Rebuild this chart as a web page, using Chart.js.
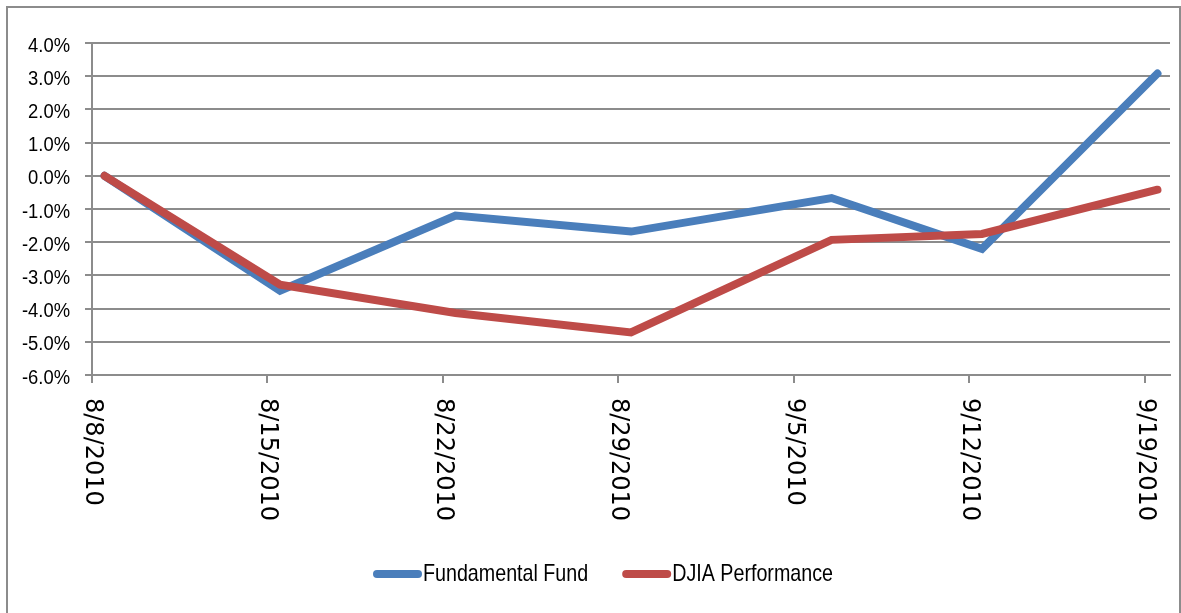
<!DOCTYPE html>
<html>
<head>
<meta charset="utf-8">
<script src="https://cdn.jsdelivr.net/npm/chart.js@4.4.1/dist/chart.umd.min.js"></script>
<style>
  html,body{margin:0;padding:0;background:#fff}
  #wrap{width:1181px;height:613px;position:relative}
</style>
</head>
<body>
<div id="wrap"><canvas id="c" width="1181" height="613"></canvas></div>
<script>
// data (percent)
const seriesNames = ['Fundamental Fund', 'DJIA Performance'];
const seriesColors = ['#4a7ebb', '#be4b48'];
const pointDates = ['2010-08-08','2010-08-15','2010-08-22','2010-08-29','2010-09-06','2010-09-12','2010-09-19'];
const fundValues = [0, -3.46, -1.2, -1.68, -0.67, -2.2, 3.08];
const djiaValues = [0, -3.28, -4.13, -4.72, -1.93, -1.75, -0.42];
const tickLabels = ['8/8/2010','8/15/2010','8/22/2010','8/29/2010','9/5/2010','9/12/2010','9/19/2010'];
const tickDays = [0, 7, 14, 21, 28, 35, 42];

const start = Date.UTC(2010,7,8);
// excel date axis puts each point in the middle of its day
const dayOf = s => (Date.parse(s+'T00:00:00Z') - start)/864e5 + 0.5;
const pts = vals => vals.map((v,i)=>({x: dayOf(pointDates[i]), y: v}));

const GRID = '#8c8c8c';
const yFont = '20px "Liberation Sans", Arial, sans-serif';
const xFont = '24px "DejaVu Sans", sans-serif';
const legFont = '24px "Liberation Sans", Arial, sans-serif';

// draw text squeezed horizontally (no narrow font installed)
function narrowText(ctx, txt, x, y, sx){
  ctx.save(); ctx.translate(x, y); ctx.scale(sx, 1); ctx.fillText(txt, 0, 0); ctx.restore();
  return ctx.measureText(txt).width * sx;
}

const frame = {
  id:'frame',
  beforeDraw(chart){
    const ctx = chart.ctx;
    ctx.save();
    ctx.fillStyle = '#fff'; ctx.fillRect(0,0,chart.width,chart.height);
    ctx.strokeStyle = GRID; ctx.lineWidth = 2;
    ctx.strokeRect(7,7,1173,700);
    ctx.restore();
  },
  afterDraw(chart){
    const ctx = chart.ctx, xs = chart.scales.x, ys = chart.scales.y, bottom = chart.chartArea.bottom;
    ctx.save();
    ctx.fillStyle = '#000';
    // y labels, a touch below their gridline like the original
    ctx.font = yFont; ctx.textAlign = 'right'; ctx.textBaseline = 'middle';
    ys.ticks.forEach(t=>{
      ctx.save();
      ctx.translate(70, ys.getPixelForValue(t.value) + 3);
      ctx.scale(0.92, 1);
      ctx.fillText(t.value.toFixed(1) + '%', 0, 0);
      ctx.restore();
    });
    // rotated date labels, reading top to bottom
    ctx.font = xFont; ctx.textAlign = 'left'; ctx.textBaseline = 'middle';
    tickDays.forEach((d,i)=>{
      ctx.save();
      ctx.translate(xs.getPixelForValue(d), bottom + 23);
      ctx.rotate(Math.PI/2);
      ctx.fillText(tickLabels[i], 0, 0);
      ctx.restore();
    });
    // legend
    ctx.font = legFont; ctx.textBaseline = 'middle';
    let x = 373; const y = 574;
    chart.data.datasets.forEach(ds=>{
      ctx.strokeStyle = ds.borderColor; ctx.lineWidth = 8; ctx.lineCap = 'round';
      ctx.beginPath(); ctx.moveTo(x+4,y); ctx.lineTo(x+45,y); ctx.stroke();
      ctx.fillStyle = '#000';
      const w = narrowText(ctx, ds.label, x+50, y, 0.82);
      x += 50 + w + 34;
    });
    ctx.restore();
  }
};

new Chart(document.getElementById('c').getContext('2d'), {
  type: 'line',
  data: {
    datasets: [
      {label: seriesNames[0], data: pts(fundValues), borderColor: seriesColors[0], backgroundColor: seriesColors[0], order: 1},
      {label: seriesNames[1], data: pts(djiaValues), borderColor: seriesColors[1], backgroundColor: seriesColors[1], order: 0}
    ]
  },
  options: {
    responsive: false,
    animation: false,
    devicePixelRatio: 1,
    elements: {
      line: {borderWidth: 8, tension: 0, borderCapStyle: 'round', borderJoinStyle: 'miter'},
      point: {radius: 0, hoverRadius: 0}
    },
    layout: {padding: {left: 0, right: 11, top: 43, bottom: 0}},
    plugins: {legend: {display: false}, tooltip: {enabled: false}},
    scales: {
      x: {
        type: 'linear', min: 0, max: 43,
        afterBuildTicks: s => { s.ticks = tickDays.map(v=>({value: v})); },
        afterFit: s => { s.height = 238; },
        ticks: {display: false},
        grid: {drawOnChartArea: false, drawTicks: true, tickLength: 8, color: GRID, lineWidth: 2},
        border: {color: GRID, width: 2}
      },
      y: {
        min: -6, max: 4,
        afterFit: s => { s.width = 92; },
        ticks: {stepSize: 1, display: false},
        grid: {color: GRID, lineWidth: 2, tickLength: 7},
        border: {color: GRID, width: 2}
      }
    }
  },
  plugins: [frame]
});
</script>
</body>
</html>
